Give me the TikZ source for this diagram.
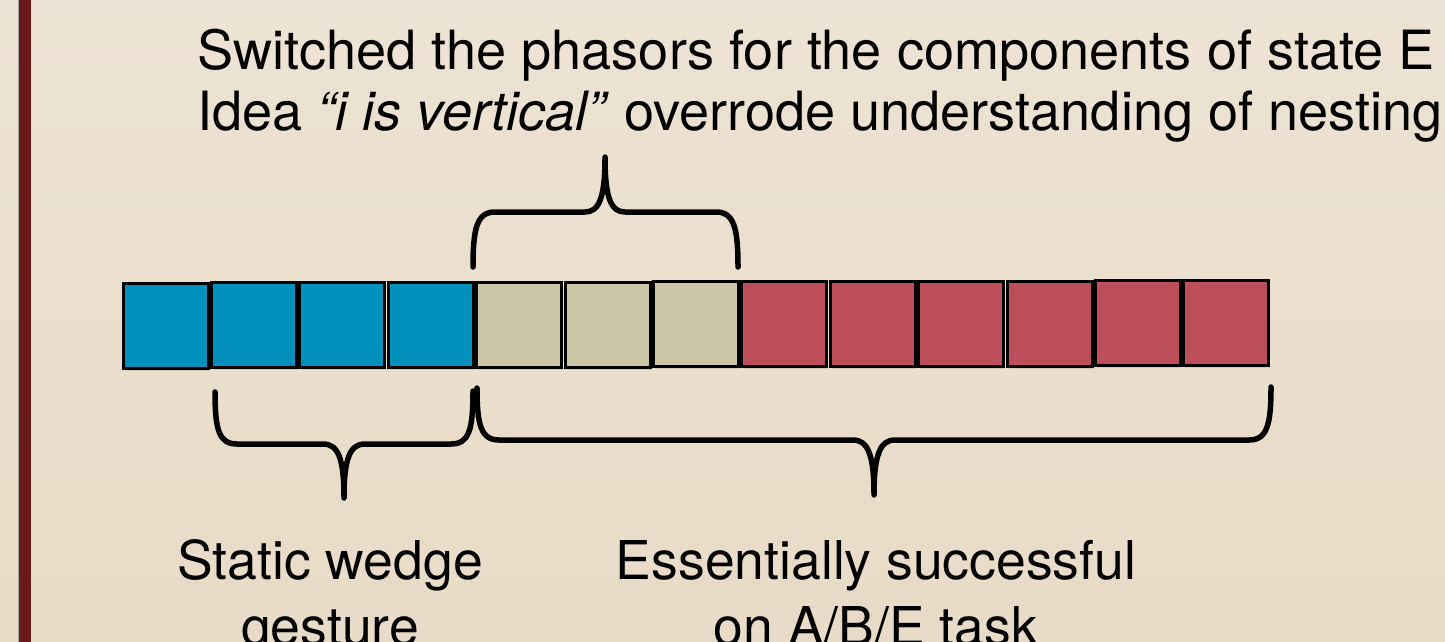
\documentclass[tikz,border=0pt]{standalone}
\usepackage{fontspec}
\setmainfont{TeX Gyre Heros}
\usetikzlibrary{shadows}
\definecolor{bgtop}{HTML}{EDE3D4}
\definecolor{bgbot}{HTML}{E8DBC7}
\definecolor{barred}{HTML}{6A1A1A}
\definecolor{cblue}{HTML}{0090BB}
\definecolor{ckhaki}{HTML}{CCC6A6}
\definecolor{cred}{HTML}{BC4F5A}
\tikzset{
  cell/.style={draw=black, line width=3pt, minimum width=85pt, minimum height=85pt,
    inner sep=0pt, outer sep=0pt, anchor=north west,
    drop shadow={opacity=0.22, shadow xshift=1.5pt, shadow yshift=-2.5pt}},
  bluecell/.style={cell, fill=cblue},
  khakicell/.style={cell, fill=ckhaki},
  redcell/.style={cell, fill=cred},
  bracepath/.style={draw=black, line width=5.5pt, line cap=round, line join=round},
  lbl/.style={inner sep=0pt},
}
\begin{document}
\begin{tikzpicture}[x=1pt, y=-1pt]
\useasboundingbox (0,0) rectangle (1445,642);
\shade[top color=bgtop, bottom color=bgbot] (0,0) rectangle (1445,642);
% left bar
\fill[black!35] (17.5,0) rectangle (19,642);
\fill[barred] (19,0) rectangle (31,642);
% cells
\foreach \i in {0,...,3} {
  \node[bluecell] (b\i) at ({123+88.4*\i},{283-0.2*\i}) {};
}
\foreach \i in {4,...,6} {
  \node[khakicell] (b\i) at ({123+88.4*\i},{283-0.2*\i}) {};
}
\foreach \i in {7,...,12} {
  \node[redcell] (b\i) at ({123+88.4*\i},{283-0.2*\i}) {};
}
% top brace
\coordinate (tl) at (473,267);
\coordinate (tt) at (605,157);
\coordinate (tr) at (738,267);
\draw[bracepath] (tl) .. controls (473,228) and (477,212) .. (495,212)
  -- (585,212) .. controls (599,212) and (605,198) .. (tt)
  .. controls (605,198) and (611,212) .. (625,212)
  -- (716,212) .. controls (734,212) and (738,228) .. (tr);
% bottom-left brace
\coordinate (ll) at (215,392);
\coordinate (lt) at (344,498);
\coordinate (lr) at (473,391);
\draw[bracepath] (ll) .. controls (215,430) and (219,444) .. (237,444)
  -- (323,444) .. controls (338,444) and (344,458) .. (lt)
  .. controls (344,458) and (350,444) .. (365,444)
  -- (451,444) .. controls (469,444) and (473,430) .. (lr);
% bottom-right brace
\coordinate (rl) at (477,388);
\coordinate (rt) at (874,495);
\coordinate (rr) at (1271,387);
\draw[bracepath] (rl) .. controls (477,425) and (481,440) .. (499,440)
  -- (853,440) .. controls (868,440) and (874,455) .. (rt)
  .. controls (874,455) and (880,440) .. (895,440)
  -- (1249,440) .. controls (1267,440) and (1271,425) .. (rr);
% texts
\node[lbl, anchor=base west, align=left, font=\fontsize{54.1}{61}\selectfont] (top) at (197,130)
  {Switched the phasors for the components of state E\\
   Idea \textit{“i is vertical”} overrode understanding of nesting};
\node[lbl, anchor=base, align=center, font=\fontsize{53.5}{66}\selectfont] (sw) at (330,645)
  {Static wedge\\gesture};
\node[lbl, anchor=base, align=center, font=\fontsize{53.5}{66}\selectfont] (es) at (876,645)
  {Essentially successful\\on A/B/E task};
\end{tikzpicture}
\end{document}
